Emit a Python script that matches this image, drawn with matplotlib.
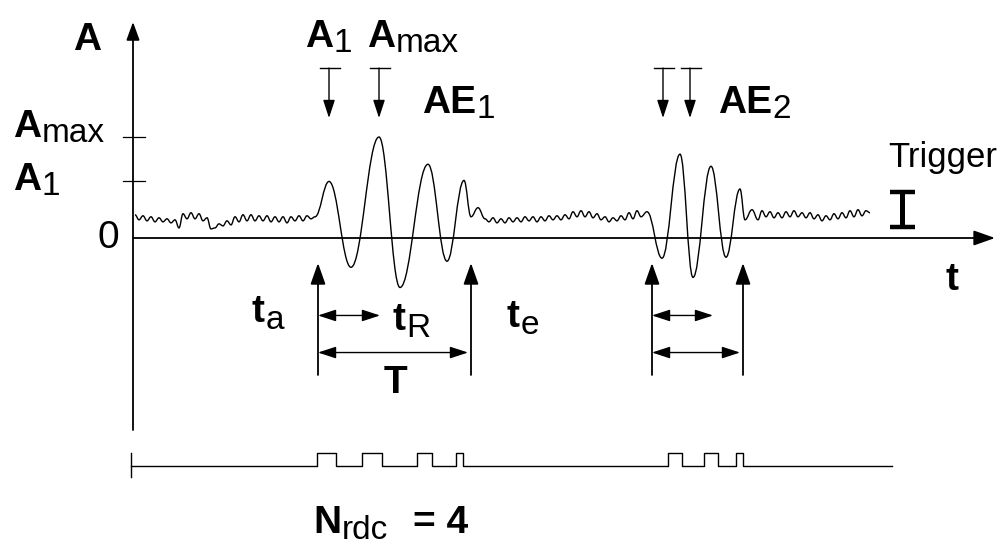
import numpy as np
import matplotlib.pyplot as plt
from matplotlib.path import Path
from matplotlib.patches import PathPatch

plt.rcParams['font.family'] = ['Liberation Sans', 'DejaVu Sans']

# signal: baseline noise + two AE bursts, stored as successive extrema (t, A)
noise1 = [0.23, 0.18, 0.22, 0.17, 0.21, 0.16, 0.20, 0.16, 0.19, 0.15,
          0.18, 0.10, 0.24, 0.19, 0.25, 0.19, 0.24, 0.17, 0.20, 0.09,
          0.10, 0.14, 0.12, 0.17, 0.13, 0.21, 0.16, 0.23, 0.17, 0.23,
          0.17, 0.22, 0.17, 0.22, 0.16, 0.21, 0.16, 0.21, 0.15, 0.21,
          0.17, 0.22, 0.17, 0.22, 0.19]
burst1_t = [182, 196, 218, 246, 267, 295, 314, 331, 338, 345, 352]
burst1_a = [0.21, 0.56, -0.29, 1.0, -0.49, 0.73, -0.23, 0.57, 0.21, 0.30, 0.19]
noise2 = [0.16, 0.20, 0.15, 0.19, 0.15, 0.20, 0.16, 0.20, 0.16, 0.21,
          0.17, 0.21, 0.16, 0.21, 0.17, 0.22, 0.18, 0.22, 0.18, 0.23,
          0.19, 0.26, 0.21, 0.27, 0.21, 0.26, 0.20, 0.24, 0.18, 0.21,
          0.16, 0.20, 0.17, 0.22, 0.18, 0.25, 0.19, 0.27, 0.21]
burst2_t = [514, 529, 547, 560, 578, 593, 607, 612, 619, 625]
burst2_a = [0.26, -0.20, 0.83, -0.39, 0.71, -0.19, 0.485, 0.18, 0.28, 0.18]
noise3 = [0.27, 0.21, 0.26, 0.20, 0.25, 0.20, 0.26, 0.21, 0.27, 0.21,
          0.25, 0.20, 0.25, 0.19, 0.23, 0.17, 0.22, 0.18, 0.24, 0.19,
          0.25, 0.20, 0.27, 0.21, 0.28, 0.22, 0.27, 0.25]

noise1_t = np.linspace(2, 178, len(noise1))
noise2_t = np.linspace(356, 508, len(noise2))
noise3_t = np.linspace(629, 737, len(noise3))

# burst timing
t_a = [185, 519]
t_e = [338, 610]
t_rise = [62, 61]
ae2_marks = [530, 557]

# threshold crossing pulses (start, end)
pulses1 = [(184, 203), (229, 249), (284, 299), (323, 330)]
pulses2 = [(535, 549), (571, 585), (603, 610)]
train_end = 759

trigger_t = 769
trigger_lo, trigger_hi = 0.109, 0.455

A1 = burst1_a[1]
Amax = max(burst1_a)
n_rdc = len(pulses1)


def smooth_path(t, a, k=0.4):
    verts = [(t[0], a[0])]
    codes = [Path.MOVETO]
    for i in range(1, len(t)):
        dt = t[i] - t[i - 1]
        verts += [(t[i - 1] + k * dt, a[i - 1]), (t[i] - k * dt, a[i]), (t[i], a[i])]
        codes += [Path.CURVE4] * 3
    return Path(verts, codes)


def arrow(ax, tail, tip, style, lw=1.2):
    ax.annotate('', xy=tip, xytext=tail,
                arrowprops=dict(arrowstyle=style, lw=lw, color='k',
                                shrinkA=0, shrinkB=0, mutation_scale=20))


def sub_label(ax, t, a, main, sub, size=28, subsize=24, dy=2.0, ha='left'):
    txt = ax.text(t, a, main, fontsize=size, fontweight='bold', ha=ha, va='baseline')
    ax.annotate(sub, xy=(1, 0), xycoords=txt, xytext=(0.5, dy),
                textcoords='offset points', fontsize=subsize, va='baseline', ha='left')
    return txt


fig = plt.figure(figsize=(10.06, 5.48), dpi=100)
ax = fig.add_axes([0, 0, 1, 1])
ax.set_xlim(-133, 873)
ax.set_ylim(-310 / 101, 238 / 101)
ax.axis('off')

# waveform
all_t = np.concatenate([noise1_t, burst1_t, noise2_t, burst2_t, noise3_t])
all_a = np.concatenate([noise1, burst1_a, noise2, burst2_a, noise3])
ax.add_patch(PathPatch(smooth_path(all_t, all_a), fill=False, lw=1.0, ec='k'))

# axes
arrow(ax, (0, -1.901), (0, 2.139), '-|>,head_length=0.55,head_width=0.2', lw=1.3)
arrow(ax, (0, 0), (862, 0), '-|>,head_length=0.65,head_width=0.23', lw=1.3)
for lev in (Amax, A1):
    ax.plot([-10, 12], [lev, lev], color='k', lw=0.9)

# A1 / Amax markers
bar_top, bar_tip = 1.683, 1.188
for tm in [burst1_t[1], burst1_t[3]] + ae2_marks:
    ax.plot([tm - 9, tm + 11], [bar_top, bar_top], color='k', lw=1.0)
    arrow(ax, (tm, bar_top), (tm, bar_tip), '-|>,head_length=0.55,head_width=0.18', lw=1.0)

# start/end arrows and durations
for ts, te, tr in zip(t_a, t_e, t_rise):
    for tt in (ts, te):
        arrow(ax, (tt, -1.356), (tt, -0.248), '-|>,head_length=0.65,head_width=0.23', lw=1.3)
    arrow(ax, (ts, -0.767), (ts + tr, -0.767), '<|-|>,head_length=0.55,head_width=0.18', lw=1.0)
    arrow(ax, (ts, -1.134), (te - 3, -1.134), '<|-|>,head_length=0.55,head_width=0.18', lw=1.0)

# trigger level marker
ax.plot([trigger_t, trigger_t], [trigger_lo, trigger_hi], color='k', lw=3.6, solid_capstyle='butt')
for lev in (trigger_lo, trigger_hi):
    ax.plot([trigger_t - 12, trigger_t + 13], [lev, lev], color='k', lw=3.2, solid_capstyle='butt')

# pulse train
lo, hi = -2.257, -2.129
xs, ys = [-2], [lo]
for s, e in pulses1 + pulses2:
    xs += [s, s, e, e]
    ys += [lo, hi, hi, lo]
xs.append(train_end)
ys.append(lo)
ax.plot(xs, ys, color='k', lw=1.0)
ax.plot([-2, -2], [hi, -2.366], color='k', lw=1.0)

# labels
ax.text(-46, 1.861, 'A', fontsize=28, fontweight='bold', ha='center', va='baseline')
sub_label(ax, -120, 1.0, 'A', 'max')
sub_label(ax, -120, 0.475, 'A', '1')
ax.text(-25, 0, '0', fontsize=28, ha='center', va='center')
sub_label(ax, 172, 1.891, 'A', '1')
sub_label(ax, 234, 1.891, 'A', 'max')
sub_label(ax, 289, 1.238, 'AE', '1')
sub_label(ax, 585, 1.238, 'AE', '2')
ax.text(755, 0.703, 'Trigger', fontsize=25, ha='left', va='baseline')
ax.text(819, -0.515, 't', fontsize=28, fontweight='bold', ha='center', va='baseline')
sub_label(ax, 119, -0.832, 't', 'a', dy=0.5)
sub_label(ax, 260, -0.911, 't', 'R', dy=0.5)
sub_label(ax, 374, -0.881, 't', 'e', dy=0.5)
ax.text(262, -1.535, 'T', fontsize=28, fontweight='bold', ha='center', va='baseline')
sub_label(ax, 180, -2.92, 'N', 'rdc', dy=1.5)
ax.text(280, -2.92, f'= {n_rdc}', fontsize=28, fontweight='bold', ha='left', va='baseline')

fig.savefig('out.png', dpi=100)
